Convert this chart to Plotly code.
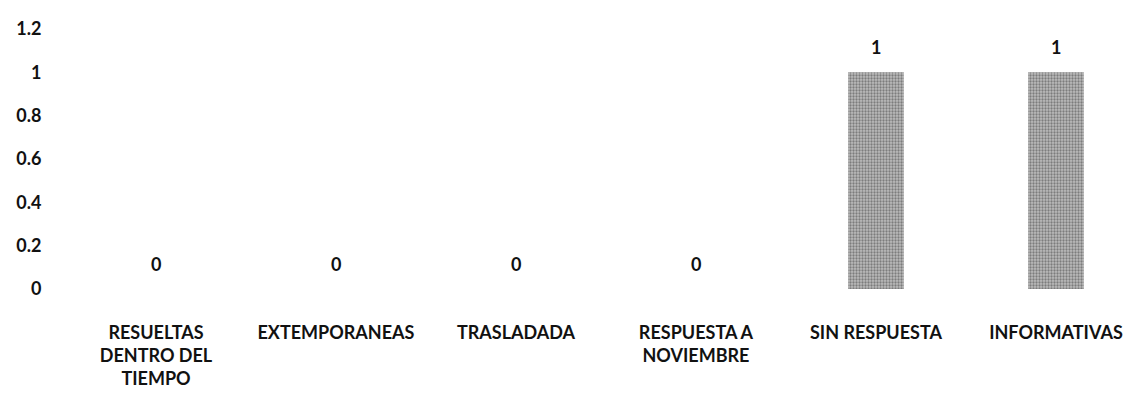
import plotly.graph_objects as go

categories = ["RESUELTAS<br>DENTRO DEL<br>TIEMPO", "EXTEMPORANEAS", "TRASLADADA",
              "RESPUESTA A<br>NOVIEMBRE", "SIN RESPUESTA", "INFORMATIVAS"]
values = [0, 0, 0, 0, 1, 1]
value_labels = ["0", "0", "0", "0", "1", "1"]
y_ticks = [0, 0.2, 0.4, 0.6, 0.8, 1, 1.2]
y_ticklabels = ["0", "0.2", "0.4", "0.6", "0.8", "1", "1.2"]

FONT = "Lato, Roboto, Liberation Sans, sans-serif"
xs = list(range(len(categories)))

fig = go.Figure(go.Bar(
    x=xs,
    y=values,
    marker=dict(
        color="#b0b0b0",
        line=dict(width=0),
        pattern=dict(shape=".", fgcolor="#3c3c3c", bgcolor="#bcbcbc", size=3, solidity=0.45),
    ),
    width=0.31,
    hoverinfo="skip",
))

for x, v, t in zip(xs, values, value_labels):
    fig.add_annotation(x=x, y=v, text=t, showarrow=False, yanchor="bottom", yshift=12,
                       font=dict(family=FONT, size=18, color="#111111", weight="bold"))

fig.update_layout(
    width=1142, height=402,
    margin=dict(l=58, r=8, t=21, b=121),
    paper_bgcolor="white", plot_bgcolor="white",
    showlegend=False,
    font=dict(family=FONT, size=18, color="#111111", weight="bold"),
)
fig.update_xaxes(
    tickmode="array", tickvals=xs, ticktext=categories, automargin=False,
    range=[-0.5, 5.478], showgrid=False, zeroline=False, showline=False,
    ticks="outside", ticklen=27, tickcolor="white",
    tickfont=dict(family=FONT, size=18, color="#111111", weight="bold"),
)
fig.update_yaxes(
    range=[0, 1.2], tickmode="array", tickvals=y_ticks, ticktext=y_ticklabels,
    automargin=False, showgrid=False, zeroline=False, showline=False,
    ticks="outside", ticklen=20, tickcolor="white",
    tickfont=dict(family=FONT, size=18, color="#111111", weight="bold"),
)

fig.write_html("out.html")
